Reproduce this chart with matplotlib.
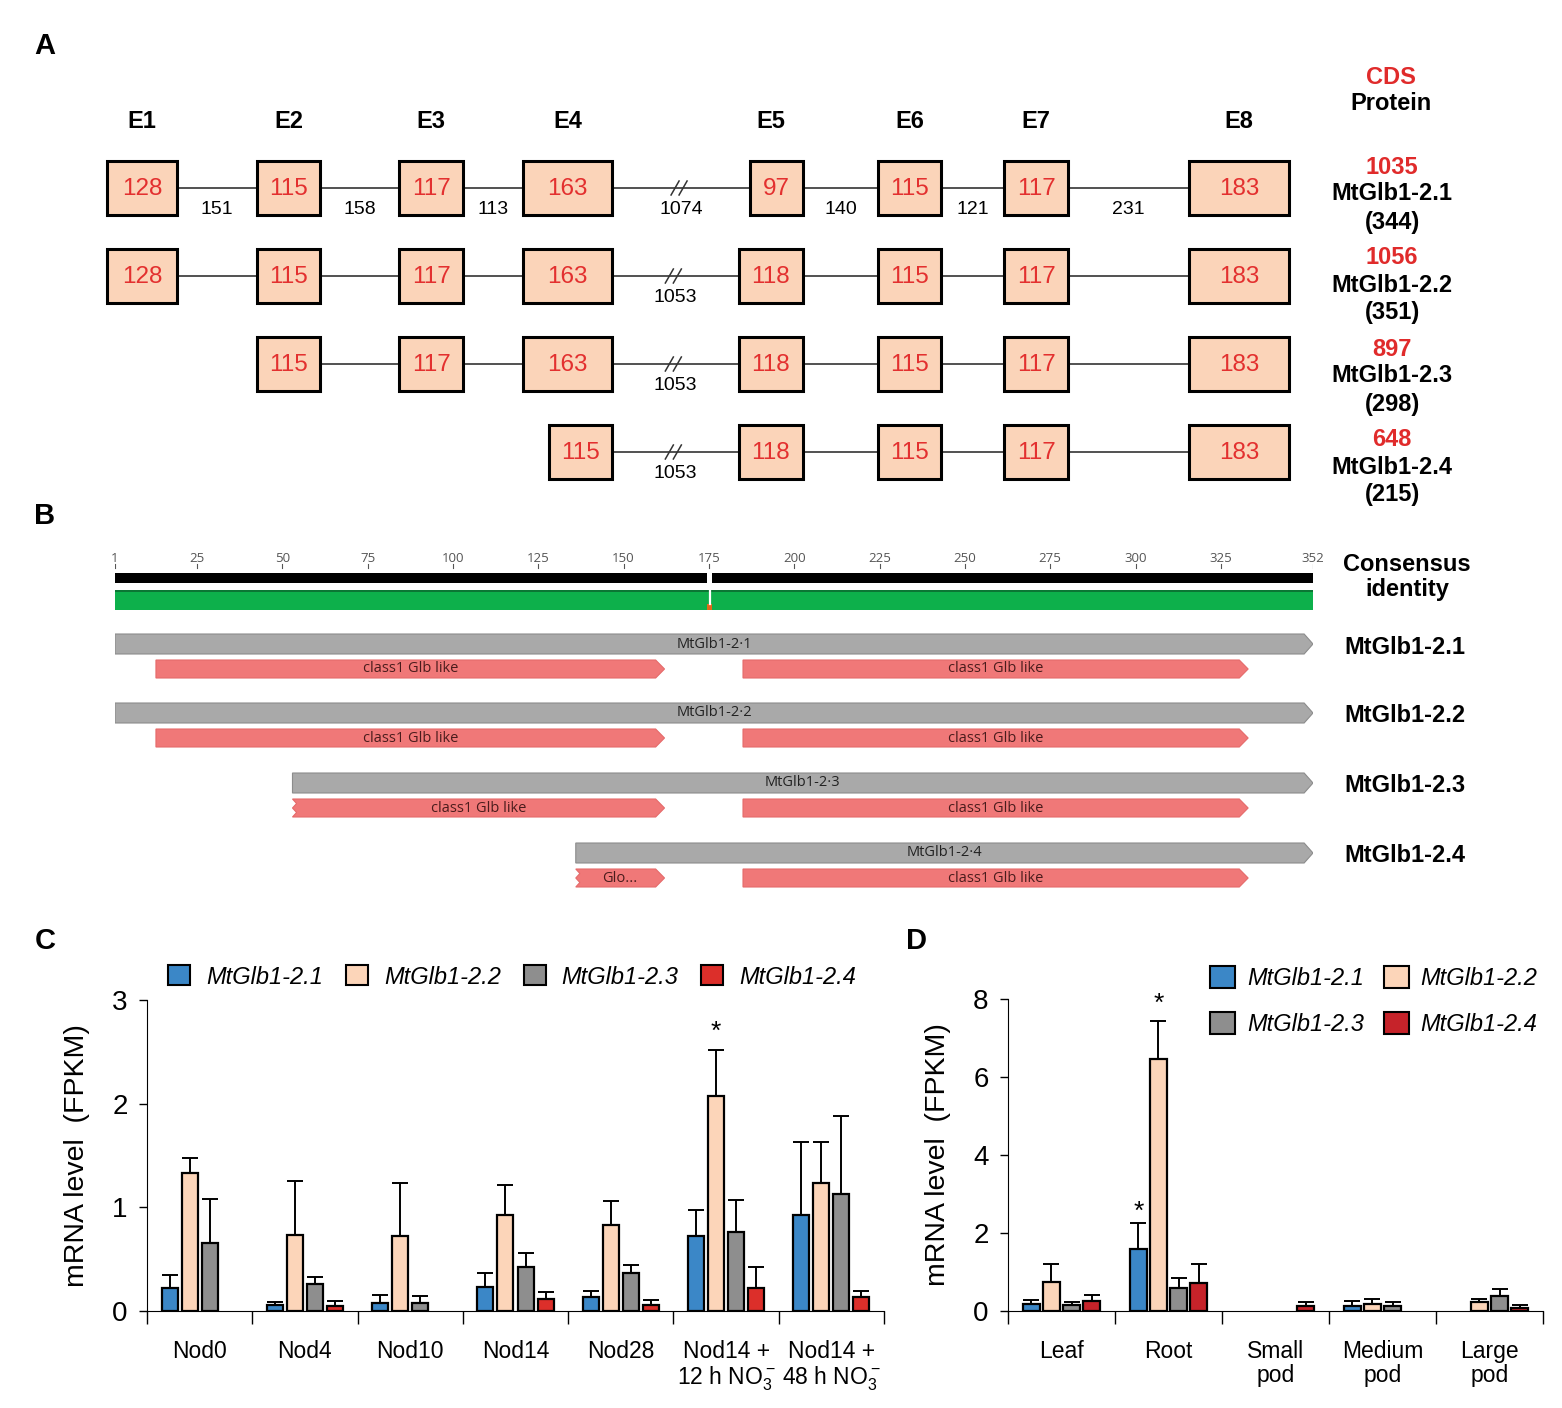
import numpy as np
import matplotlib
matplotlib.use('Agg')
import matplotlib.pyplot as plt
from matplotlib.patches import Rectangle, Polygon, Patch

plt.rcParams['font.family'] = ['Liberation Sans', 'DejaVu Sans']
plt.rcParams['mathtext.default'] = 'regular'

# ---------- panel A: gene structure ----------
isoforms = ['MtGlb1-2.1', 'MtGlb1-2.2', 'MtGlb1-2.3', 'MtGlb1-2.4']
exon_names = ['E1', 'E2', 'E3', 'E4', 'E5', 'E6', 'E7', 'E8']
exon_len = [
    [128, 115, 117, 163, 97, 115, 117, 183],
    [128, 115, 117, 163, 118, 115, 117, 183],
    [0, 115, 117, 163, 118, 115, 117, 183],
    [0, 0, 0, 115, 118, 115, 117, 183],
]
intron_labels = [
    ['151', '158', '113', '1074', '140', '121', '231'],
    ['', '', '', '1053', '', '', ''],
    ['', '', '', '1053', '', '', ''],
    ['', '', '', '1053', '', '', ''],
]
cds_len = [1035, 1056, 897, 648]
protein_len = [344, 351, 298, 215]

# ---------- panel B: protein alignment ----------
ruler_ticks = [1, 25, 50, 75, 100, 125, 150, 175, 200, 225, 250, 275, 300, 325, 352]
align_len = 352
consensus_gap = 175.2
protein_start = [1, 1, 53, 136]
protein_names = ['MtGlb1-2\u00b71', 'MtGlb1-2\u00b72', 'MtGlb1-2\u00b73', 'MtGlb1-2\u00b74']
dom1_start = [13, 13, 53, 136]
dom1_end = 162
dom1_label = ['class1 Glb like', 'class1 Glb like', 'class1 Glb like', 'Glo...']
dom2_start, dom2_end = 185, 333
dom2_label = 'class1 Glb like'

# ---------- panel C: nodule time course ----------
c_groups = ['Nod0', 'Nod4', 'Nod10', 'Nod14', 'Nod28',
            'Nod14 +\n12 h NO$_3^-$', 'Nod14 +\n48 h NO$_3^-$']
c_21 = [0.22, 0.055, 0.08, 0.23, 0.135, 0.72, 0.93]
c_21_top = [0.35, 0.09, 0.15, 0.37, 0.19, 0.97, 1.63]
c_22 = [1.33, 0.73, 0.72, 0.93, 0.83, 2.07, 1.23]
c_22_top = [1.48, 1.25, 1.23, 1.22, 1.06, 2.52, 1.63]
c_23 = [0.66, 0.26, 0.08, 0.42, 0.37, 0.76, 1.13]
c_23_top = [1.08, 0.33, 0.14, 0.56, 0.44, 1.07, 1.88]
c_24 = [0, 0.05, 0, 0.12, 0.06, 0.22, 0.135]
c_24_top = [0, 0.10, 0, 0.18, 0.11, 0.42, 0.19]
c_stars = [(5, 1, 2.69)]

# ---------- panel D: organs ----------
d_groups = ['Leaf', 'Root', 'Small\npod', 'Medium\npod', 'Large\npod']
d_21 = [0.17, 1.58, 0, 0.14, 0]
d_21_top = [0.27, 2.26, 0, 0.26, 0]
d_22 = [0.75, 6.46, 0, 0.17, 0.22]
d_22_top = [1.21, 7.43, 0, 0.32, 0.32]
d_23 = [0.15, 0.58, 0, 0.14, 0.38]
d_23_top = [0.24, 0.85, 0, 0.24, 0.56]
d_24 = [0.26, 0.73, 0.14, 0, 0.085]
d_24_top = [0.41, 1.20, 0.24, 0, 0.15]
d_stars = [(1, 0, 2.55), (1, 1, 7.87)]

W, H = 1562, 1408
fig = plt.figure(figsize=(W / 100, H / 100), dpi=100)

# overlay axes in image pixels for the diagram parts and texts
ov = fig.add_axes([0, 0, 1, 1])
ov.set_xlim(0, W)
ov.set_ylim(H, 0)
ov.axis('off')

for lab, (x, y) in zip('ABCD', [(45, 46), (45, 516), (45, 941), (917, 941)]):
    ov.text(x, y, lab, fontsize=21, fontweight='bold', ha='center', va='center')

# panel A
col_right = [177, 320, 463, 612, 803, 941, 1068, 1289]
row_y = [188, 276, 364, 452]
bp_px = 0.545
box_h = 54
red_txt = '#e3302f'
bold_size = 17

for j, name in enumerate(exon_names):
    L = max(row[j] for row in exon_len)
    ov.text(col_right[j] - L * bp_px / 2, 122, name, fontsize=17, fontweight='bold',
            ha='center', va='center')

for r in range(len(isoforms)):
    y = row_y[r]
    prev_right = None
    for j in range(len(exon_names)):
        L = exon_len[r][j]
        if L == 0:
            continue
        x0 = col_right[j] - L * bp_px
        if prev_right is not None:
            ov.plot([prev_right, x0], [y, y], color='#333333', lw=1.2, zorder=1)
            mid = (prev_right + x0) / 2
            lab = intron_labels[r][j - 1]
            if lab:
                ov.text(mid, y + 21, lab, fontsize=14, ha='center', va='center')
            if j == 4:
                for dx in (-10, -2):
                    ov.plot([mid + dx, mid + dx + 8], [y + 7, y - 7], color='#333333', lw=1.1)
        ov.add_patch(Rectangle((x0, y - box_h / 2), L * bp_px, box_h, fc='#fbd4b9',
                               ec='black', lw=2.2, zorder=2))
        ov.text(x0 + L * bp_px / 2, y + 1, str(L), color=red_txt, fontsize=17.5,
                ha='center', va='center', zorder=3)
        prev_right = col_right[j]

ov.text(1391, 78, 'CDS', color='#e02b2b', fontsize=bold_size, fontweight='bold',
        ha='center', va='center')
ov.text(1391, 104, 'Protein', fontsize=bold_size, fontweight='bold', ha='center', va='center')
for r in range(len(isoforms)):
    yb = 167 + r * 91
    ov.text(1392, yb, str(cds_len[r]), color='#e02b2b', fontsize=bold_size, fontweight='bold',
            ha='center', va='center')
    ov.text(1392, yb + 27, isoforms[r], fontsize=bold_size, fontweight='bold',
            ha='center', va='center')
    ov.text(1392, yb + 55, '(%d)' % protein_len[r], fontsize=bold_size, fontweight='bold',
            ha='center', va='center')

# panel B (x in alignment positions, y in image pixels)
axb = fig.add_axes([115 / W, 0, (1313 - 115) / W, 1])
axb.set_xlim(1, align_len)
axb.set_ylim(H, 0)
axb.axis('off')

feat_font = ['Open Sans', 'DejaVu Sans']
for t in ruler_ticks:
    axb.text(t, 558, str(t), fontsize=9.5, color='#555555', ha='center', va='center',
             family=feat_font)
    axb.plot([t, t], [564, 568], color='#555555', lw=0.8)

axb.add_patch(Rectangle((1, 573), consensus_gap - 0.8 - 1, 10, fc='black', ec='none'))
axb.add_patch(Rectangle((consensus_gap + 0.8, 573), align_len - consensus_gap - 0.8, 10,
                        fc='black', ec='none'))
axb.add_patch(Rectangle((1, 590), align_len - 1, 20, fc='#0db04b', ec='none'))
axb.plot([1, align_len], [591, 591], color='#0b6b30', lw=1.2)
axb.plot([consensus_gap, consensus_gap], [589, 604], color='white', lw=1.6)
axb.add_patch(Rectangle((consensus_gap - 0.7, 604), 1.4, 6, fc='#e06a1b', ec='none'))


def feature(ax, x0, x1, yc, h, fc, ec, jagged=False):
    tip = 2.6
    top, bot = yc - h / 2, yc + h / 2
    pts = [(x1 - tip, top), (x1, yc), (x1 - tip, bot), (x0, bot)]
    if jagged:
        pts += [(x0 + 1.2, yc + h / 4), (x0, yc), (x0 + 1.2, yc - h / 4)]
    pts += [(x0, top)]
    ax.add_patch(Polygon(pts, closed=True, fc=fc, ec=ec, lw=0.8))


gray_y = [644, 713, 783, 853]
for r in range(len(isoforms)):
    gy = gray_y[r]
    ry = gy + 25
    feature(axb, protein_start[r], align_len, gy, 20, '#a9a9a9', '#8c8c8c')
    axb.text((protein_start[r] + align_len) / 2, gy, protein_names[r], fontsize=10.5,
             color='#222222', ha='center', va='center', family=feat_font)
    jag = dom1_start[r] == protein_start[r] and protein_start[r] > 1
    feature(axb, dom1_start[r], dom1_end, ry, 18, '#f07878', '#e56a6a', jagged=jag)
    axb.text((dom1_start[r] + dom1_end) / 2, ry, dom1_label[r], fontsize=10.5,
             color='#4a1c1c', ha='center', va='center', family=feat_font)
    feature(axb, dom2_start, dom2_end, ry, 18, '#f07878', '#e56a6a')
    axb.text((dom2_start + dom2_end) / 2, ry, dom2_label, fontsize=10.5,
             color='#4a1c1c', ha='center', va='center', family=feat_font)
    ov.text(1405, gy + 3, isoforms[r], fontsize=bold_size, fontweight='bold',
            ha='center', va='center')

ov.text(1407, 577, 'Consensus\nidentity', fontsize=bold_size, fontweight='bold', ha='center',
        va='center', linespacing=1.15)

# panels C and D
blue, peach, gray = '#3b87c7', '#fcd5b9', '#8e8e8e'


def bar_panel(ax, groups, series, tops, colors, bw, step, ymax, yticks, stars):
    n = len(groups)
    x = np.arange(n) + 0.5
    for k, (vals, top, col) in enumerate(zip(series, tops, colors)):
        pos = x + (k - 1.5) * step
        vals = np.array(vals, float)
        top = np.array(top, float)
        m = vals > 0
        ax.bar(pos[m], vals[m], bw, color=col, edgecolor='black', linewidth=1.6, zorder=2)
        e = top > 0
        ax.errorbar(pos[e], vals[e], yerr=[np.zeros(e.sum()), (top - vals)[e]], fmt='none',
                    ecolor='black', elinewidth=1.4, capsize=6, capthick=1.4, zorder=3)
    for g, k, yv in stars:
        ax.text(x[g] + (k - 1.5) * step, yv, '*', fontsize=19, ha='center', va='center')
    ax.set_xlim(0, n)
    ax.set_ylim(0, ymax)
    ax.spines[['top', 'right']].set_visible(False)
    ax.set_xticks(x)
    ax.set_xticklabels(groups, linespacing=1.05)
    ax.set_xticks(np.arange(n + 1), minor=True)
    ax.set_yticks(yticks)
    ax.tick_params(axis='x', which='major', length=0, pad=21, labelsize=16.5)
    ax.tick_params(axis='x', which='minor', length=9, width=1, direction='out')
    ax.tick_params(axis='y', length=6, width=1, labelsize=20, pad=8)
    ax.set_ylabel('mRNA level  (FPKM)', fontsize=20.5, labelpad=16)


axc = fig.add_axes([147 / W, (H - 1311) / H, 737 / W, 311 / H])
c_colors = [blue, peach, gray, '#dc2f2a']
bar_panel(axc, c_groups, [c_21, c_22, c_23, c_24], [c_21_top, c_22_top, c_23_top, c_24_top],
          c_colors, 0.152, 0.19, 3, [0, 1, 2, 3], c_stars)

axd = fig.add_axes([1008 / W, (H - 1311) / H, 535 / W, 312 / H])
d_colors = [blue, peach, gray, '#c6232a']
bar_panel(axd, d_groups, [d_21, d_22, d_23, d_24], [d_21_top, d_22_top, d_23_top, d_24_top],
          d_colors, 0.16, 0.187, 8, [0, 2, 4, 6, 8], d_stars)

leg_font = {'style': 'italic', 'size': 17}
c_handles = [Patch(fc=c, ec='black', lw=1.5) for c in c_colors]
fig.legend(c_handles, isoforms, loc='center left', bbox_to_anchor=(168 / W, 1 - 977 / H),
           ncol=4, frameon=False, prop=leg_font, handlelength=0.93, handleheight=0.93,
           handletextpad=0.68, columnspacing=0.97, borderpad=0, borderaxespad=0)
# legend in D reads row-wise: 2.1, 2.2 / 2.3, 2.4
d_order = [0, 2, 1, 3]
d_handles = [Patch(fc=d_colors[i], ec='black', lw=1.5) for i in d_order]
fig.legend(d_handles, [isoforms[i] for i in d_order], loc='center left',
           bbox_to_anchor=(1210 / W, 1 - 1001 / H),
           ncol=2, frameon=False, prop=leg_font, handlelength=1.06, handleheight=1.06,
           handletextpad=0.5, columnspacing=0.85, labelspacing=0.95, borderpad=0,
           borderaxespad=0)

fig.savefig('out.png', dpi=100)
